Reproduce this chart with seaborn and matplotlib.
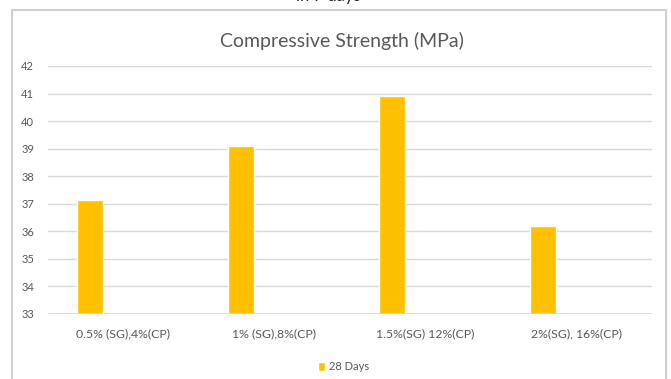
import numpy as np
import pandas as pd
import matplotlib
matplotlib.use("Agg")
import matplotlib.pyplot as plt
from matplotlib.patches import Rectangle
import seaborn as sns

# Data
categories = ["0.5% (SG),4%(CP)", "1% (SG),8%(CP)", "1.5%(SG) 12%(CP)", "2%(SG), 16%(CP)"]
strength_28_days = [37.15, 39.1, 40.9, 36.2]
series_name = "28 Days"
y_ticks = [33, 34, 35, 36, 37, 38, 39, 40, 41, 42]

sns.set_theme(style="white")
plt.rcParams["font.family"] = ["Lato", "DejaVu Sans"]

text_col = "#595959"
bar_col = "#FFC000"
grid_col = "#d9d9d9"

# bars sit in the left slot of each category group
slot_offset = -0.222
df = pd.DataFrame({
    "pos": np.arange(len(categories)) + slot_offset,
    "value": strength_28_days,
    "series": series_name,
})

fig = plt.figure(figsize=(6.71, 3.79), dpi=100)
ax = fig.add_axes([48 / 671, 1 - 314 / 379, 604 / 671, 248 / 379])

sns.barplot(data=df, x="pos", y="value", hue="series", palette=[bar_col],
            saturation=1, native_scale=True, width=0.172, ax=ax, zorder=3,
            legend=True)

ax.set_xlim(-0.5, len(categories) - 0.5)
ax.set_ylim(min(y_ticks), max(y_ticks))
ax.set_yticks(y_ticks)
ax.set_xticks(range(len(categories)))
ax.set_xticklabels(categories)
ax.set_xlabel("")
ax.set_ylabel("")
ax.yaxis.grid(True, color=grid_col, linewidth=1.0, zorder=0)
ax.xaxis.grid(False)
for s in ax.spines.values():
    s.set_visible(False)
ax.tick_params(axis="both", length=0, colors=text_col)
ax.tick_params(axis="y", pad=10, labelsize=8)
ax.tick_params(axis="x", pad=10, labelsize=8.8)
ax.axhline(min(y_ticks), color=grid_col, linewidth=1.2, zorder=4)

ax.set_title("Compressive Strength (MPa)", color=text_col, fontsize=14, pad=14, x=0.487)

leg = ax.legend(loc="upper center", bbox_to_anchor=(0.49, -0.15), frameon=False,
                fontsize=8, handlelength=0.6, handleheight=0.9, handletextpad=0.4)
for t in leg.get_texts():
    t.set_color(text_col)

# chart frame
fig.patches.append(Rectangle((12 / 671, -0.05), 654 / 671, 1 - 10 / 379 + 0.05,
                             transform=fig.transFigure, fill=False,
                             edgecolor="#d0d0d0", linewidth=1.5))
fig.text(0.49, 1.01, "in 7 days", ha="center", va="center", fontsize=12, color="#222222")

fig.savefig("out.png", dpi=100)
